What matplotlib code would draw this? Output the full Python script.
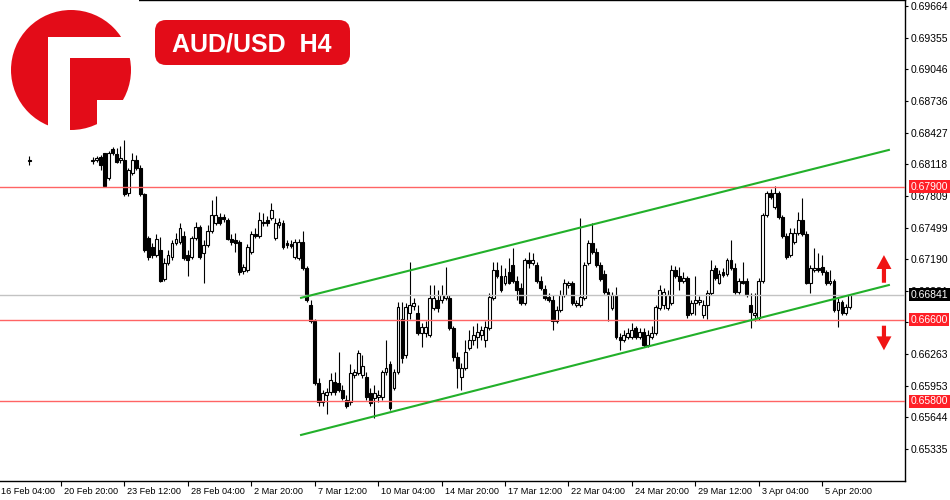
import numpy as np
import matplotlib
matplotlib.use("Agg")
import matplotlib.pyplot as plt
from matplotlib.patches import Rectangle, Circle, FancyBboxPatch
from matplotlib.transforms import blended_transform_factory

plt.rcParams['font.family'] = ['Liberation Sans', 'DejaVu Sans']

nan = float("nan")

# ---------------- data (AUD/USD H4 candles) ----------------
first_bar = 8   # bar index of the first array entry (bar 0 = 16 Feb 04:00)

opens = [0.6815] + [nan] * 15 + [
    0.6815, 0.6816, 0.6819, 0.6823, 0.6798, 0.6827, 0.6822, 0.6816, 0.6816, 0.6784,
    0.6803, 0.6816, 0.6808, 0.6783, 0.6740, 0.6731, 0.6723, 0.6728, 0.6700, 0.6715,
    0.6721, 0.6735, 0.6736, 0.6742, 0.6723, 0.6721, 0.6740, 0.6750, 0.6725, 0.6733,
    0.6747, 0.6754, 0.6760, 0.6760, 0.6757, 0.6739, 0.6738, 0.6736, 0.6707, 0.6708,
    0.6726, 0.6744, 0.6742, 0.6754, 0.6757, 0.6759, 0.6740, 0.6752, 0.6754, 0.6735,
    0.6734, 0.6721, 0.6720, 0.6736, 0.6710, 0.6674, 0.6659, 0.6598, 0.6579, 0.6586,
    0.6589, 0.6599, 0.6598, 0.6591, 0.6581, 0.6579, 0.6606, 0.6608, 0.6606, 0.6604,
    0.6588, 0.6583, 0.6584, 0.6584, 0.6609, 0.6617, 0.6593, 0.6609, 0.6661, 0.6625,
    0.6666, 0.6673, 0.6666, 0.6647, 0.6647, 0.6645, 0.6671, 0.6679, 0.6679, 0.6681,
    0.6681, 0.6652, 0.6623, 0.6604, 0.6613, 0.6632, 0.6640, 0.6643, 0.6645, 0.6640,
    0.6652, 0.6681, 0.6708, 0.6703, 0.6696, 0.6706, 0.6713, 0.6698, 0.6691, 0.6676,
    0.6718, 0.6715, 0.6713, 0.6698, 0.6690, 0.6682, 0.6679, 0.6659, 0.6669, 0.6684,
    0.6694, 0.6696, 0.6674, 0.6674, 0.6681, 0.6715, 0.6735, 0.6726, 0.6713, 0.6705,
    0.6687, 0.6671, 0.6684, 0.6643, 0.6640, 0.6643, 0.6643, 0.6652, 0.6643, 0.6648,
    0.6635, 0.6643, 0.6647, 0.6671, 0.6674, 0.6671, 0.6676, 0.6708, 0.6703, 0.6698,
    0.6701, 0.6666, 0.6676, 0.6677, 0.6664, 0.6674, 0.6686, 0.6710, 0.6696, 0.6706,
    0.6705, 0.6718, 0.6710, 0.6687, 0.6698, 0.6698, 0.6674, 0.6664, 0.6662, 0.6698,
    0.6762, 0.6784, 0.6770, 0.6784, 0.6760, 0.6742, 0.6723, 0.6736, 0.6745, 0.6757,
    0.6744, 0.6696, 0.6708, 0.6710, 0.6711, 0.6706, 0.6696, 0.6698, 0.6669, 0.6677,
    0.6666, 0.6672]

highs = [0.6820] + [nan] * 15 + [
    0.6819, 0.6820, 0.6821, 0.6823, 0.6825, 0.6829, 0.6828, 0.6830, 0.6835, 0.6808,
    0.6823, 0.6821, 0.6811, 0.6784, 0.6742, 0.6735, 0.6744, 0.6741, 0.6720, 0.6728,
    0.6738, 0.6745, 0.6754, 0.6747, 0.6728, 0.6742, 0.6755, 0.6752, 0.6738, 0.6752,
    0.6777, 0.6781, 0.6764, 0.6763, 0.6759, 0.6744, 0.6745, 0.6738, 0.6714, 0.6734,
    0.6747, 0.6749, 0.6765, 0.6764, 0.6761, 0.6774, 0.6759, 0.6759, 0.6757, 0.6738,
    0.6738, 0.6739, 0.6739, 0.6747, 0.6712, 0.6679, 0.6661, 0.6603, 0.6591, 0.6593,
    0.6608, 0.6609, 0.6628, 0.6596, 0.6586, 0.6617, 0.6612, 0.6630, 0.6625, 0.6609,
    0.6593, 0.6596, 0.6591, 0.6611, 0.6640, 0.6620, 0.6612, 0.6677, 0.6677, 0.6676,
    0.6716, 0.6681, 0.6674, 0.6657, 0.6659, 0.6694, 0.6694, 0.6689, 0.6694, 0.6711,
    0.6684, 0.6654, 0.6628, 0.6618, 0.6640, 0.6650, 0.6654, 0.6657, 0.6654, 0.6659,
    0.6686, 0.6716, 0.6716, 0.6713, 0.6710, 0.6720, 0.6730, 0.6703, 0.6696, 0.6720,
    0.6726, 0.6725, 0.6716, 0.6703, 0.6694, 0.6686, 0.6684, 0.6673, 0.6689, 0.6700,
    0.6698, 0.6698, 0.6679, 0.6759, 0.6716, 0.6738, 0.6754, 0.6730, 0.6716, 0.6708,
    0.6691, 0.6687, 0.6692, 0.6647, 0.6650, 0.6652, 0.6657, 0.6654, 0.6652, 0.6652,
    0.6650, 0.6654, 0.6674, 0.6694, 0.6691, 0.6689, 0.6713, 0.6712, 0.6711, 0.6706,
    0.6703, 0.6679, 0.6703, 0.6683, 0.6679, 0.6689, 0.6718, 0.6713, 0.6708, 0.6710,
    0.6720, 0.6738, 0.6715, 0.6701, 0.6716, 0.6701, 0.6686, 0.6686, 0.6701, 0.6764,
    0.6786, 0.6788, 0.6791, 0.6786, 0.6762, 0.6745, 0.6749, 0.6749, 0.6765, 0.6779,
    0.6747, 0.6713, 0.6730, 0.6725, 0.6723, 0.6708, 0.6708, 0.6700, 0.6681, 0.6679,
    0.6675, 0.6685]

lows = [0.6811] + [nan] * 15 + [
    0.6812, 0.6814, 0.6806, 0.6790, 0.6796, 0.6821, 0.6813, 0.6813, 0.6781, 0.6781,
    0.6801, 0.6806, 0.6781, 0.6726, 0.6718, 0.6720, 0.6721, 0.6697, 0.6698, 0.6713,
    0.6718, 0.6733, 0.6734, 0.6718, 0.6703, 0.6719, 0.6738, 0.6719, 0.6696, 0.6731,
    0.6745, 0.6752, 0.6752, 0.6755, 0.6738, 0.6733, 0.6726, 0.6704, 0.6705, 0.6706,
    0.6724, 0.6740, 0.6740, 0.6751, 0.6751, 0.6757, 0.6738, 0.6749, 0.6729, 0.6730,
    0.6730, 0.6719, 0.6718, 0.6708, 0.6677, 0.6657, 0.6596, 0.6576, 0.6576, 0.6568,
    0.6586, 0.6586, 0.6589, 0.6581, 0.6574, 0.6577, 0.6603, 0.6606, 0.6603, 0.6581,
    0.6576, 0.6564, 0.6579, 0.6581, 0.6606, 0.6572, 0.6591, 0.6607, 0.6618, 0.6622,
    0.6661, 0.6669, 0.6645, 0.6633, 0.6643, 0.6643, 0.6669, 0.6667, 0.6676, 0.6679,
    0.6650, 0.6620, 0.6593, 0.6591, 0.6611, 0.6630, 0.6635, 0.6632, 0.6640, 0.6633,
    0.6650, 0.6679, 0.6701, 0.6687, 0.6694, 0.6695, 0.6696, 0.6679, 0.6674, 0.6674,
    0.6710, 0.6713, 0.6696, 0.6689, 0.6679, 0.6677, 0.6650, 0.6657, 0.6667, 0.6682,
    0.6691, 0.6674, 0.6672, 0.6672, 0.6679, 0.6713, 0.6724, 0.6711, 0.6698, 0.6685,
    0.6659, 0.6669, 0.6641, 0.6630, 0.6638, 0.6641, 0.6641, 0.6641, 0.6641, 0.6633,
    0.6633, 0.6641, 0.6645, 0.6669, 0.6670, 0.6669, 0.6674, 0.6701, 0.6689, 0.6696,
    0.6662, 0.6664, 0.6664, 0.6674, 0.6662, 0.6661, 0.6684, 0.6699, 0.6695, 0.6702,
    0.6703, 0.6708, 0.6685, 0.6685, 0.6695, 0.6682, 0.6652, 0.6659, 0.6660, 0.6696,
    0.6760, 0.6778, 0.6768, 0.6758, 0.6740, 0.6719, 0.6721, 0.6734, 0.6743, 0.6742,
    0.6695, 0.6686, 0.6706, 0.6706, 0.6704, 0.6694, 0.6694, 0.6667, 0.6653, 0.6664,
    0.6664, 0.6670]

closes = [0.6816] + [nan] * 15 + [
    0.6816, 0.6818, 0.6811, 0.6791, 0.6823, 0.6823, 0.6814, 0.6818, 0.6783, 0.6806,
    0.6816, 0.6808, 0.6783, 0.6728, 0.6721, 0.6723, 0.6739, 0.6698, 0.6715, 0.6723,
    0.6735, 0.6739, 0.6749, 0.6720, 0.6718, 0.6740, 0.6750, 0.6721, 0.6733, 0.6747,
    0.6762, 0.6762, 0.6754, 0.6758, 0.6739, 0.6736, 0.6735, 0.6706, 0.6711, 0.6731,
    0.6744, 0.6742, 0.6757, 0.6755, 0.6754, 0.6767, 0.6754, 0.6755, 0.6731, 0.6733,
    0.6732, 0.6736, 0.6736, 0.6710, 0.6679, 0.6659, 0.6598, 0.6579, 0.6588, 0.6589,
    0.6601, 0.6589, 0.6591, 0.6583, 0.6576, 0.6608, 0.6609, 0.6627, 0.6615, 0.6584,
    0.6578, 0.6588, 0.6586, 0.6609, 0.6613, 0.6574, 0.6609, 0.6672, 0.6622, 0.6672,
    0.6674, 0.6676, 0.6647, 0.6653, 0.6653, 0.6681, 0.6681, 0.6671, 0.6684, 0.6684,
    0.6652, 0.6623, 0.6613, 0.6613, 0.6628, 0.6640, 0.6645, 0.6648, 0.6650, 0.6653,
    0.6682, 0.6708, 0.6703, 0.6689, 0.6703, 0.6696, 0.6698, 0.6689, 0.6676, 0.6718,
    0.6715, 0.6718, 0.6698, 0.6691, 0.6681, 0.6679, 0.6659, 0.6669, 0.6684, 0.6696,
    0.6696, 0.6676, 0.6676, 0.6682, 0.6713, 0.6735, 0.6726, 0.6713, 0.6700, 0.6687,
    0.6684, 0.6684, 0.6643, 0.6640, 0.6645, 0.6647, 0.6650, 0.6643, 0.6648, 0.6635,
    0.6645, 0.6647, 0.6672, 0.6689, 0.6687, 0.6684, 0.6708, 0.6703, 0.6698, 0.6701,
    0.6664, 0.6676, 0.6679, 0.6679, 0.6674, 0.6686, 0.6708, 0.6701, 0.6705, 0.6704,
    0.6718, 0.6710, 0.6687, 0.6698, 0.6696, 0.6684, 0.6667, 0.6666, 0.6698, 0.6762,
    0.6784, 0.6780, 0.6784, 0.6760, 0.6742, 0.6721, 0.6745, 0.6745, 0.6757, 0.6744,
    0.6696, 0.6710, 0.6710, 0.6708, 0.6706, 0.6696, 0.6698, 0.6669, 0.6677, 0.6666,
    0.6672, 0.6684]

date_labels = ["16 Feb 04:00", "20 Feb 20:00", "23 Feb 12:00", "28 Feb 04:00",
               "2 Mar 20:00", "7 Mar 12:00", "10 Mar 04:00", "14 Mar 20:00",
               "17 Mar 12:00", "22 Mar 04:00", "24 Mar 20:00", "29 Mar 12:00",
               "3 Apr 04:00", "5 Apr 20:00"]
bars_per_label = 16

price_ticks = [0.65335, 0.65644, 0.65953, 0.66263, 0.66572, 0.66881, 0.67190,
               0.67499, 0.67809, 0.68118, 0.68427, 0.68736, 0.69046, 0.69355, 0.69664]
hidden_tick_labels = [0.66572]   # fully covered by the 0.66600 price box

levels = [0.67900, 0.66600, 0.65800]
last_price = 0.66841

channel_x = [76.3, 225.1]
channel_upper = [0.6681, 0.6826]
channel_lower = [0.6547, 0.6694]

arrow_bar = 223.6
arrow_up = [0.6696, 0.6723]     # tail, tip
arrow_down = [0.6654, 0.6630]   # tail, tip

title_text = "AUD/USD  H4"

# ---------------- figure ----------------
W, H = 950, 500
fig = plt.figure(figsize=(W / 100, H / 100), dpi=100)
fig.patch.set_facecolor("white")

plot_w, plot_h = 905, 481
ax = fig.add_axes([0, (H - plot_h) / H, plot_w / W, plot_h / H])
ax.set_facecolor("white")

bar_px = 3.964     # pixel width of one bar slot
bar0_px = -2.4     # pixel position of bar 0
ax.set_xlim((0 - bar0_px) / bar_px, (plot_w - bar0_px) / bar_px)
ax.set_ylim(0.650226, 0.697227)

o = np.array(opens)
h = np.array(highs)
l = np.array(lows)
c = np.array(closes)
x = first_bar + np.arange(len(o))
valid = ~np.isnan(o)
bull = valid & (c >= o)
bear = valid & (c < o)

ax.vlines(x[valid], l[valid], h[valid], color="black", lw=0.8, zorder=2)
bottom = np.minimum(o, c)
height = np.maximum(np.abs(c - o), 0.00002)
ax.bar(x[bull], height[bull], bottom=bottom[bull], width=0.72,
       facecolor="white", edgecolor="black", linewidth=0.8, zorder=3)
ax.bar(x[bear], height[bear], bottom=bottom[bear], width=0.72,
       facecolor="black", edgecolor="black", linewidth=0.8, zorder=3)

# horizontal levels
for lv in levels:
    ax.axhline(lv, color="#ff6464", lw=1.0, zorder=4)
ax.axhline(last_price, color="#c3c3c3", lw=1.0, zorder=4)

# channel
ax.plot(channel_x, channel_upper, color="#22b02a", lw=1.5, zorder=5, solid_capstyle="butt")
ax.plot(channel_x, channel_lower, color="#22b02a", lw=1.5, zorder=5, solid_capstyle="butt")

# arrows
for tail, tip in (arrow_up, arrow_down):
    ax.annotate("", xy=(arrow_bar, tip), xytext=(arrow_bar, tail),
                arrowprops=dict(arrowstyle="simple,head_length=1.0,head_width=1.08,tail_width=0.3",
                                mutation_scale=10, color="#f01414", lw=0,
                                shrinkA=0, shrinkB=0),
                annotation_clip=False, zorder=6)

# spines
for s in ("top", "right", "bottom"):
    ax.spines[s].set_color("black")
    ax.spines[s].set_linewidth(1.0)
ax.spines["left"].set_visible(False)

# y axis on right
ax.yaxis.tick_right()
ax.set_yticks(price_ticks)
ax.set_yticklabels(["" if v in hidden_tick_labels else f"{v:.5f}" for v in price_ticks])
ax.tick_params(axis="y", direction="out", length=2.5, width=0.8, pad=1.2,
               labelsize=7.5, colors="black")

# x axis ticks & labels
tick_bars = [k * bars_per_label for k in range(len(date_labels))]
xmin = ax.get_xlim()[0]
ax.set_xticks([b for b in tick_bars if b >= xmin])
ax.tick_params(axis="x", direction="out", length=3.5, width=0.8, labelbottom=False)
tx = blended_transform_factory(ax.transData, ax.transAxes)
for b, lab in zip(tick_bars, date_labels):
    ax.text(b + 0.75, -11 / plot_h, lab, transform=tx, ha="left", va="center",
            fontsize=6.6, color="black", clip_on=False)

# price label boxes
ty = blended_transform_factory(ax.transAxes, ax.transData)
for lv in levels:
    ax.text(1 + 5.5 / plot_w, lv, f"{lv:.5f}", transform=ty, ha="left", va="center",
            fontsize=7.5, color="white", clip_on=False, zorder=7,
            bbox=dict(boxstyle="square,pad=0.15", fc="#ff1f26", ec="none"))
ax.text(1 + 5.5 / plot_w, last_price, f"{last_price:.5f}", transform=ty, ha="left",
        va="center", fontsize=7.5, color="white", clip_on=False, zorder=7,
        bbox=dict(boxstyle="square,pad=0.15", fc="black", ec="none"))

# ---------------- overlay: logo and title badge ----------------
ov = fig.add_axes([0, 0, 1, 1], zorder=10)
ov.set_xlim(0, W)
ov.set_ylim(H, 0)
ov.axis("off")
ov.patch.set_alpha(0)

red = "#e30c18"
ov.add_patch(Rectangle((0, 0), 139, 138, facecolor="white", edgecolor="none"))
ov.add_patch(Circle((71, 70), 60, facecolor=red, edgecolor="none"))
ov.add_patch(Rectangle((48, 37), 22, 95, facecolor="white", edgecolor="none"))
ov.add_patch(Rectangle((48, 37), 90, 21, facecolor="white", edgecolor="none"))
ov.add_patch(Rectangle((97, 100), 42, 32, facecolor="white", edgecolor="none"))

ov.add_patch(FancyBboxPatch((155, 20), 195, 45,
                            boxstyle="round,pad=0,rounding_size=11",
                            facecolor=red, edgecolor="none"))
ov.text(252, 52, title_text, ha="center", va="baseline", fontsize=18,
        fontweight="bold", color="white")

fig.savefig("out.png", dpi=100, facecolor="white")
